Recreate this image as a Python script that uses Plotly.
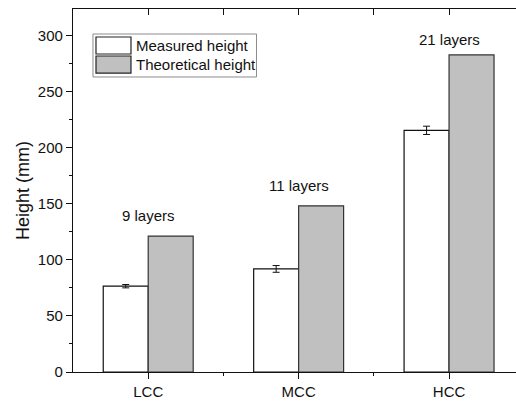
import plotly.graph_objects as go

# Layer-height data per concrete category
categories = ["LCC", "MCC", "HCC"]
measured = [76.6, 92.0, 215.7]
measured_err = [1.5, 3.0, 3.7]
theoretical = [121.3, 148.3, 283.0]
layer_labels = ["9 layers", "11 layers", "21 layers"]
y_ticks = [0, 50, 100, 150, 200, 250, 300]

FONT = "Arial, Liberation Sans, sans-serif"
INK = "#111111"
GRAY = "#c0c0c0"

xpos = list(range(len(categories)))
x_range = [-0.5, 2.445]
y_range = [0, 324]

fig = go.Figure()
fig.add_trace(go.Bar(
    x=xpos, y=measured, name="Measured height",
    marker=dict(color="white", line=dict(color=INK, width=1.2)),
    error_y=dict(type="data", array=measured_err, color=INK, thickness=1, width=3.5),
    showlegend=False,
))
fig.add_trace(go.Bar(
    x=xpos, y=theoretical, name="Theoretical height",
    marker=dict(color=GRAY, line=dict(color="#333333", width=1.2)),
    showlegend=False,
))
# placeholder so the top axis is rendered
fig.add_trace(go.Scatter(x=[], y=[], xaxis="x2", showlegend=False, hoverinfo="skip"))

# layer count labels above the theoretical bars
label_shift = [21, 20, 15]
for xi, t, lab, s in zip(xpos, theoretical, layer_labels, label_shift):
    fig.add_annotation(x=xi, y=t, text=lab, showarrow=False, yanchor="middle",
                       yshift=s, font=dict(family=FONT, size=15, color=INK))

# hand-built legend with wide swatches
legend_items = [("Measured height", "white"), ("Theoretical height", GRAY)]
fig.add_shape(type="rect", xref="paper", yref="paper", x0=0.0451, x1=0.4142,
              y0=0.8127, y1=0.9311, line=dict(color="#8c8c8c", width=1),
              fillcolor="white", layer="above")
sw_top = [0.9229, 0.8705]
sw_h = 0.0469
for (name, col), top in zip(legend_items, sw_top):
    fig.add_shape(type="rect", xref="paper", yref="paper", x0=0.0519, x1=0.1309,
                  y0=top - sw_h, y1=top, fillcolor=col,
                  line=dict(color="#222222", width=1.2), layer="above")
    fig.add_annotation(xref="paper", yref="paper", x=0.138, y=top - sw_h / 2,
                       text=name, showarrow=False, xanchor="left", yanchor="middle",
                       font=dict(family=FONT, size=15, color=INK))

fig.update_layout(
    width=516, height=406,
    margin=dict(l=73, r=0, t=9, b=34),
    paper_bgcolor="white", plot_bgcolor="white",
    barmode="group", bargap=0.402, bargroupgap=0,
    font=dict(family=FONT, size=15, color=INK),
    xaxis=dict(
        range=x_range, tickmode="array", tickvals=xpos, ticktext=categories,
        showline=True, linecolor=INK, linewidth=1.3, mirror=False,
        ticks="outside", ticklen=6, tickwidth=1.3, tickcolor=INK,
        showgrid=False, zeroline=False,
        tickfont=dict(family=FONT, size=15, color=INK),
        minor=dict(tickvals=[0.5, 1.5], ticks="outside", ticklen=3,
                   tickwidth=1.3, tickcolor=INK, showgrid=False),
    ),
    xaxis2=dict(
        overlaying="x", side="top", range=x_range,
        tickmode="array", tickvals=xpos, showticklabels=False,
        showline=True, linecolor=INK, linewidth=1.3,
        ticks="inside", ticklen=6, tickwidth=1.3, tickcolor=INK,
        showgrid=False, zeroline=False,
        minor=dict(tickvals=[0.5, 1.5], ticks="inside", ticklen=6,
                   tickwidth=1.3, tickcolor=INK, showgrid=False),
    ),
    yaxis=dict(
        range=y_range, tickmode="array", tickvals=y_ticks,
        showline=True, linecolor=INK, linewidth=1.3,
        ticks="outside", ticklen=6, tickwidth=1.3, tickcolor=INK,
        showgrid=False, zeroline=False,
        tickfont=dict(family=FONT, size=15, color=INK),
        title=dict(text="Height (mm)", font=dict(family=FONT, size=18, color=INK),
                   standoff=3),
        minor=dict(tickvals=[25, 75, 125, 175, 225, 275, 325], ticks="outside",
                   ticklen=3, tickwidth=1.3, tickcolor=INK, showgrid=False),
    ),
)

fig.write_html("out.html")
